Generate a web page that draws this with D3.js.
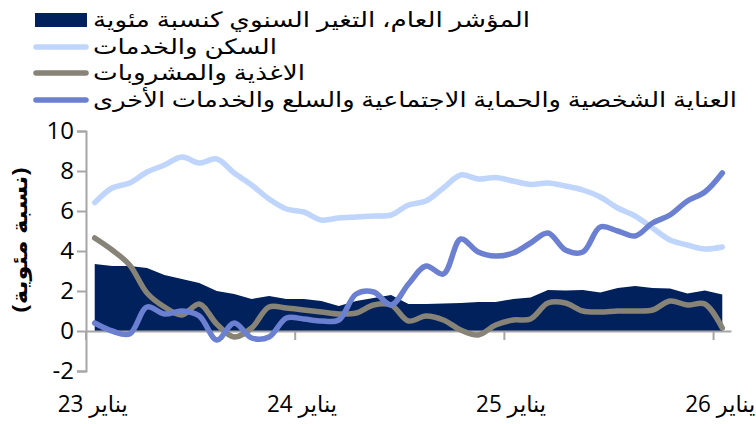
<!DOCTYPE html>
<html>
<head>
<meta charset="utf-8">
<script src="https://cdn.jsdelivr.net/npm/d3@7"></script>
<style>
  body { margin: 0; background: #fff; }
  svg { display: block; font-family: "Open Sans", "DejaVu Sans", sans-serif; }
</style>
</head>
<body>
<div id="chart"></div>
<script>
// الاشهر: يناير 2023 - يناير 2026
const months = [
  "2023-01","2023-02","2023-03","2023-04","2023-05","2023-06","2023-07","2023-08","2023-09","2023-10","2023-11","2023-12",
  "2024-01","2024-02","2024-03","2024-04","2024-05","2024-06","2024-07","2024-08","2024-09","2024-10","2024-11","2024-12",
  "2025-01","2025-02","2025-03","2025-04","2025-05","2025-06","2025-07","2025-08","2025-09","2025-10","2025-11","2025-12",
  "2026-01"
];

// المؤشر العام
const general = [3.35,3.25,3.25,3.15,2.8,2.6,2.4,2.0,1.85,1.6,1.75,1.6,
  1.6,1.5,1.25,1.5,1.65,1.8,1.35,1.35,1.38,1.4,1.45,1.45,
  1.6,1.68,2.05,2.02,2.05,1.92,2.15,2.25,2.15,2.13,1.88,2.02,
  1.82];

// السكن والخدمات
const housing = [6.42,7.15,7.4,7.95,8.3,8.7,8.4,8.6,7.9,7.3,6.6,6.1,
  5.95,5.55,5.65,5.7,5.75,5.8,6.3,6.5,7.15,7.8,7.6,7.68,
  7.5,7.33,7.4,7.25,7.05,6.7,6.15,5.75,5.15,4.55,4.3,4.1,
  4.2];

// الاغذية والمشروبات
const food = [4.65,4.05,3.3,1.9,1.2,0.8,1.35,0.35,-0.3,0.15,1.2,1.15,
  1.05,0.95,0.85,0.9,1.3,1.3,0.5,0.75,0.55,0.05,-0.2,0.3,
  0.55,0.6,1.4,1.4,1.0,0.95,1.0,1.0,1.05,1.5,1.3,1.35,
  0.15];

// العناية الشخصية والحماية الاجتماعية والسلع والخدمات الأخرى
const personal = [0.4,0.0,-0.15,1.2,0.85,1.0,0.75,-0.45,0.4,-0.35,-0.3,0.65,
  0.6,0.5,0.55,1.85,1.95,1.3,2.35,3.25,2.85,4.6,3.95,3.75,
  3.9,4.4,4.9,4.05,3.95,5.2,5.0,4.75,5.4,5.8,6.5,6.95,
  7.9];

const yTicks = [-2, 0, 2, 4, 6, 8, 10];
const xTickMonths = ["2023-01", "2024-01", "2025-01", "2026-01"];
const xTickLabels = ["يناير 23", "يناير 24", "يناير 25", "يناير 26"];

const legendNames = [
  "المؤشر العام، التغير السنوي كنسبة مئوية",
  "السكن والخدمات",
  "الاغذية والمشروبات",
  "العناية الشخصية والحماية الاجتماعية والسلع والخدمات الأخرى"
];
const colors = ["#00215b", "#bfd5fb", "#878377", "#6b80d1"];

const W = 756, H = 424;
const svg = d3.select("#chart").append("svg")
  .attr("width", W)
  .attr("height", H);

const x = d3.scaleBand().domain(months).range([86, 731]).paddingInner(0).paddingOuter(0);
const y = d3.scaleLinear().domain([-2, 10]).range([371, 131]);
const cx = m => x(m) + x.bandwidth() / 2;

// area
const area = d3.area()
  .x((d, i) => cx(months[i]))
  .y0(y(0))
  .y1(d => y(d));
svg.append("path")
  .datum(general)
  .attr("d", area)
  .attr("fill", colors[0]);

// axes
const axisColor = "#a6a6a6";
const yAxis = svg.append("g")
  .attr("transform", "translate(86,0)")
  .call(d3.axisLeft(y).tickValues(yTicks).tickSize(9).tickPadding(3).tickFormat(d => String(d)));
yAxis.select(".domain").attr("stroke", axisColor).attr("stroke-width", 2);
yAxis.selectAll(".tick line").attr("stroke", axisColor).attr("stroke-width", 2);
yAxis.selectAll(".tick text")
  .attr("fill", "#000")
  .style("font-family", "'Open Sans', sans-serif")
  .style("font-size", "24px");

const xAxis = svg.append("g")
  .attr("transform", `translate(0,${y(0)})`)
  .call(d3.axisBottom(x).tickValues(xTickMonths).tickSize(9).tickSizeOuter(0).tickFormat(""));
xAxis.select(".domain").attr("stroke", axisColor).attr("stroke-width", 2);
xAxis.selectAll(".tick")
  .attr("transform", d => `translate(${x(d)},0)`);
xAxis.selectAll(".tick line").attr("stroke", axisColor).attr("stroke-width", 2);

svg.append("g")
  .selectAll("text")
  .data(xTickMonths)
  .join("text")
  .attr("x", d => cx(d) - 2)
  .attr("y", 412)
  .attr("text-anchor", "middle")
  .style("font-size", "23px")
  .attr("textLength", 70)
  .attr("lengthAdjust", "spacingAndGlyphs")
  .attr("fill", "#000")
  .text((d, i) => xTickLabels[i]);

// lines
const line = d3.line()
  .x((d, i) => cx(months[i]))
  .y(d => y(d))
  .curve(d3.curveCatmullRom);

[housing, food, personal].forEach((s, k) => {
  svg.append("path")
    .datum(s)
    .attr("d", line)
    .attr("fill", "none")
    .attr("stroke", colors[k + 1])
    .attr("stroke-width", 5.5)
    .attr("stroke-linecap", "round")
    .attr("stroke-linejoin", "round");
});

// y label
svg.append("text")
  .attr("transform", "translate(27,240) rotate(-90)")
  .attr("text-anchor", "middle")
  .style("font-size", "21px")
  .style("font-weight", "bold")
  .attr("textLength", 145)
  .attr("lengthAdjust", "spacingAndGlyphs")
  .text("(نسبة مئوية)");

// legend
const legendY = [20, 47, 73, 100];
const legendW = [437, 184, 212, 644];
const legend = svg.append("g");
legendNames.forEach((name, i) => {
  if (i === 0) {
    legend.append("rect")
      .attr("x", 35).attr("y", legendY[i] - 7)
      .attr("width", 52).attr("height", 14)
      .attr("fill", colors[i]);
  } else {
    legend.append("line")
      .attr("x1", 36).attr("x2", 86)
      .attr("y1", legendY[i]).attr("y2", legendY[i])
      .attr("stroke", colors[i])
      .attr("stroke-width", 5.5)
      .attr("stroke-linecap", "round");
  }
  legend.append("text")
    .attr("x", 93)
    .attr("y", legendY[i] + 7)
    .style("font-size", "21px")
    .attr("textLength", legendW[i])
    .attr("lengthAdjust", "spacingAndGlyphs")
    .attr("fill", "#000")
    .text(name);
});
</script>
</body>
</html>
